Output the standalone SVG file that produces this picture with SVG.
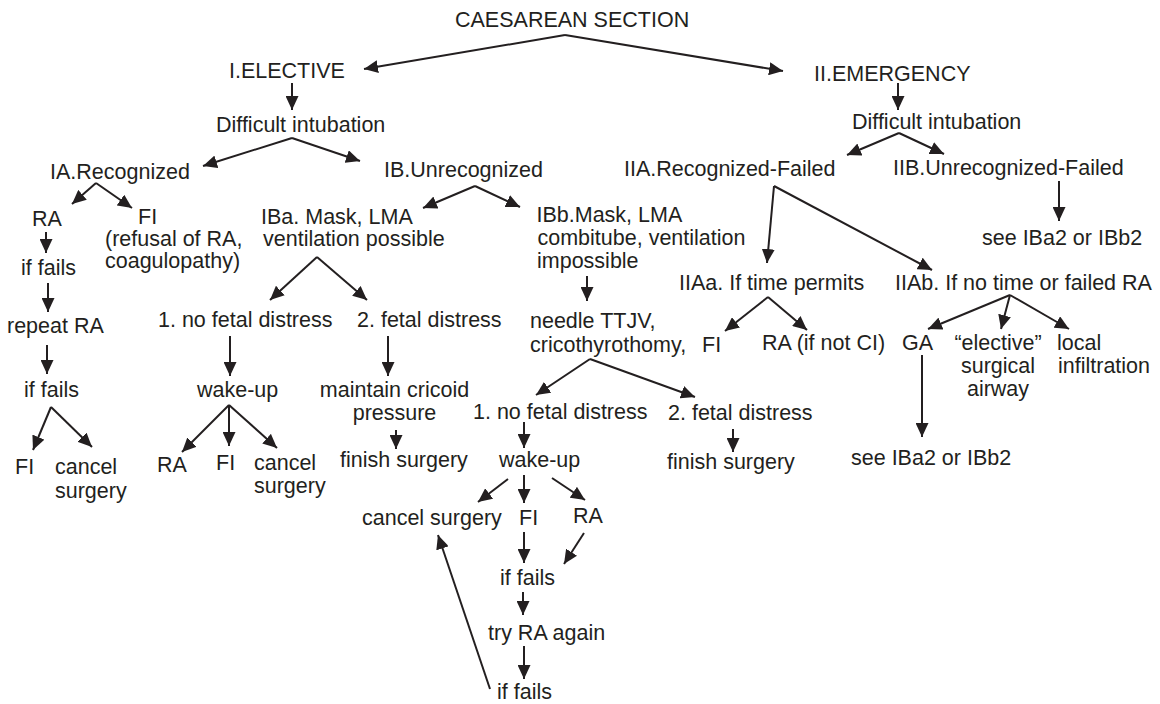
<svg xmlns="http://www.w3.org/2000/svg" width="1160" height="704" viewBox="0 0 1160 704">
<style>
text{font-family:"Liberation Sans",Arial,sans-serif;font-size:21.5px;fill:#231f20}
.m{text-anchor:middle}
#connectors line{stroke:#231f20;stroke-width:2;fill:none;marker-end:url(#ah)}
</style>
<defs>
<marker id="ah" viewBox="0 0 14 13" refX="14" refY="6.5" markerWidth="14" markerHeight="13" markerUnits="userSpaceOnUse" orient="auto">
<path d="M0,0 L14,6.5 L0,13 z" fill="#231f20"/>
</marker>
</defs>
<rect width="1160" height="704" fill="#fff"/>
<g id="n-cs"><text x="455" y="27">CAESAREAN SECTION</text></g>
<g id="n-elective"><text x="229" y="78">I.ELECTIVE</text></g>
<g id="n-emergency"><text x="814" y="81">II.EMERGENCY</text></g>
<g id="n-di1"><text x="216" y="132">Difficult intubation</text></g>
<g id="n-di2"><text x="852" y="129">Difficult intubation</text></g>
<g id="n-ia"><text x="50" y="179">IA.Recognized</text></g>
<g id="n-ib"><text x="384" y="177">IB.Unrecognized</text></g>
<g id="n-iia"><text x="624" y="176">IIA.Recognized-Failed</text></g>
<g id="n-iib"><text x="893" y="175">IIB.Unrecognized-Failed</text></g>
<g id="n-ia-ra"><text x="32" y="226">RA</text></g>
<g id="n-ia-fi"><text x="138" y="224">FI</text><text x="105" y="246">(refusal of RA,</text><text x="105" y="268">coagulopathy)</text></g>
<g id="n-iba"><text x="261" y="224">IBa. Mask, LMA</text><text x="263" y="246">ventilation possible</text></g>
<g id="n-ibb"><text x="536.5" y="222">IBb.Mask, LMA</text><text x="537.5" y="245">combitube, ventilation</text><text x="537" y="268">impossible</text></g>
<g id="n-iib-see"><text x="982" y="245">see IBa2 or IBb2</text></g>
<g id="n-ia-if1"><text x="21" y="275">if fails</text></g>
<g id="n-ia-rep"><text x="7" y="333">repeat RA</text></g>
<g id="n-ia-if2"><text x="24" y="397">if fails</text></g>
<g id="n-ia-fi2"><text x="15" y="474">FI</text></g>
<g id="n-ia-cancel"><text x="55" y="474">cancel</text><text x="55" y="498">surgery</text></g>
<g id="n-iba-1"><text x="158" y="327">1. no fetal distress</text></g>
<g id="n-iba-2"><text x="357" y="327">2. fetal distress</text></g>
<g id="n-iiaa"><text x="679" y="290">IIAa. If time permits</text></g>
<g id="n-iiab"><text x="895" y="290">IIAb. If no time or failed RA</text></g>
<g id="n-needle"><text x="530" y="328">needle TTJV,</text><text x="530" y="352">cricothyrothomy,</text></g>
<g id="n-iiaa-fi"><text x="702" y="352">FI</text></g>
<g id="n-iiaa-ra"><text x="762" y="350">RA (if not CI)</text></g>
<g id="n-ga"><text x="902" y="350">GA</text></g>
<g id="n-elect-air"><text class="m" x="998" y="350">“elective”</text><text class="m" x="998" y="373">surgical</text><text class="m" x="998" y="396">airway</text></g>
<g id="n-local"><text x="1057" y="350">local</text><text x="1058" y="373">infiltration</text></g>
<g id="n-iba-wake"><text x="197" y="397">wake-up</text></g>
<g id="n-maintain"><text class="m" x="394.5" y="397">maintain cricoid</text><text class="m" x="394.5" y="420">pressure</text></g>
<g id="n-ibb-1"><text x="473" y="419">1. no fetal distress</text></g>
<g id="n-ibb-2"><text x="668" y="420">2. fetal distress</text></g>
<g id="n-iba-ra"><text x="157" y="472">RA</text></g>
<g id="n-iba-fi"><text x="216" y="470">FI</text></g>
<g id="n-iba-cancel"><text x="254" y="470">cancel</text><text x="254" y="493">surgery</text></g>
<g id="n-iba-finish"><text x="340" y="467">finish surgery</text></g>
<g id="n-ibb-wake"><text x="499" y="467">wake-up</text></g>
<g id="n-ibb-finish"><text x="667" y="469">finish surgery</text></g>
<g id="n-ga-see"><text x="851" y="465">see IBa2 or IBb2</text></g>
<g id="n-ibb-cancel"><text x="362" y="525">cancel surgery</text></g>
<g id="n-ibb-fi"><text x="519" y="525">FI</text></g>
<g id="n-ibb-ra"><text x="573" y="523">RA</text></g>
<g id="n-ibb-if1"><text x="500" y="585">if fails</text></g>
<g id="n-ibb-try"><text x="488" y="640">try RA again</text></g>
<g id="n-ibb-if2"><text x="497" y="699">if fails</text></g>
<g id="connectors">
<line x1="565" y1="35" x2="364" y2="69"/>
<line x1="565" y1="35" x2="783" y2="71"/>
<line x1="292" y1="83" x2="292" y2="110"/>
<line x1="292" y1="138" x2="203" y2="166"/>
<line x1="292" y1="138" x2="360" y2="161"/>
<line x1="898" y1="83" x2="898" y2="110"/>
<line x1="899" y1="133" x2="847" y2="155"/>
<line x1="899" y1="133" x2="944" y2="154"/>
<line x1="96" y1="183" x2="72" y2="204"/>
<line x1="96" y1="183" x2="132" y2="208"/>
<line x1="475" y1="186" x2="423" y2="208"/>
<line x1="475" y1="186" x2="520" y2="207"/>
<line x1="774" y1="186" x2="767" y2="263"/>
<line x1="774" y1="186" x2="932" y2="270"/>
<line x1="1059" y1="181" x2="1059" y2="221"/>
<line x1="46" y1="232" x2="46" y2="253"/>
<line x1="48" y1="283" x2="48" y2="312"/>
<line x1="47" y1="345" x2="47" y2="374"/>
<line x1="51" y1="407" x2="33" y2="450"/>
<line x1="51" y1="407" x2="92" y2="447"/>
<line x1="317" y1="257" x2="270" y2="300"/>
<line x1="317" y1="257" x2="367" y2="300"/>
<line x1="587" y1="276" x2="587" y2="301"/>
<line x1="768" y1="297" x2="725" y2="331"/>
<line x1="768" y1="297" x2="807" y2="330"/>
<line x1="1010" y1="295" x2="928" y2="329"/>
<line x1="1010" y1="295" x2="1001" y2="329"/>
<line x1="1010" y1="295" x2="1069" y2="329"/>
<line x1="230" y1="336" x2="230" y2="376"/>
<line x1="388" y1="336" x2="388" y2="376"/>
<line x1="590" y1="359" x2="536" y2="395"/>
<line x1="590" y1="359" x2="695" y2="397"/>
<line x1="229" y1="405" x2="182" y2="452"/>
<line x1="229" y1="405" x2="229" y2="446"/>
<line x1="229" y1="405" x2="277" y2="448"/>
<line x1="922" y1="355" x2="922" y2="437"/>
<line x1="396" y1="430" x2="396" y2="449"/>
<line x1="524" y1="422" x2="524" y2="448"/>
<line x1="733" y1="429" x2="733" y2="452"/>
<line x1="508" y1="479" x2="478" y2="502"/>
<line x1="524" y1="475" x2="524" y2="503"/>
<line x1="552" y1="478" x2="585" y2="500"/>
<line x1="524" y1="532" x2="524" y2="563"/>
<line x1="584" y1="533" x2="564" y2="564"/>
<line x1="523" y1="592" x2="523" y2="615"/>
<line x1="524" y1="646" x2="524" y2="679"/>
<line x1="490" y1="689" x2="438" y2="535"/>
</g>
</svg>
